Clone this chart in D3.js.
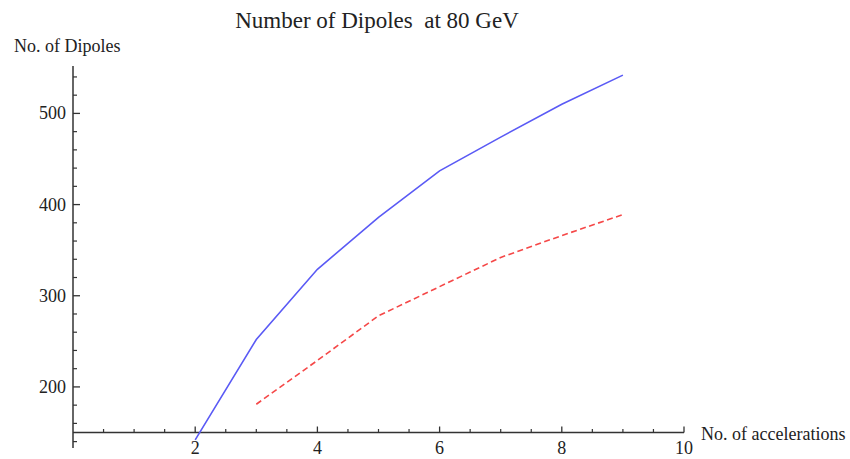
<!DOCTYPE html>
<html>
<head>
<meta charset="utf-8">
<script src="https://cdn.jsdelivr.net/npm/d3@7"></script>
<style>
  body { margin: 0; background: #fff; }
  text { font-family: "Liberation Serif", "DejaVu Serif", serif; fill: #222; }
</style>
</head>
<body>
<div id="chart"></div>
<script>
// numero di dipoli vs numero di accelerazioni (stile Mathematica)
const accelerations = [2, 3, 4, 5, 6, 7, 8, 9];
const dipolesSolid = [142, 252, 329, 386, 437, 474, 510, 542];
const accelerationsDashed = [3, 4, 5, 6, 7, 8, 9];
const dipolesDashed = [181, 229, 278, 310, 342, 366, 389];
const xTicks = [2, 4, 6, 8, 10];
const yTicks = [200, 300, 400, 500];

const W = 850, H = 459;
const svg = d3.select('#chart').append('svg').attr('width', W).attr('height', H);

const x = d3.scaleLinear().domain([0, 10]).range([73, 684]);
const y = d3.scaleLinear().domain([133, 552]).range([448, 66]);
const x0 = 0, y0 = 150; // incrocio assi

// minor ticks
const xMinor = d3.range(0.5, 10.01, 0.5).filter(v => !xTicks.includes(v));
const yMinor = d3.range(140, 552, 20).filter(v => !yTicks.includes(v));

const axisColor = '#333';

// asse x
svg.append('line')
    .attr('x1', x(x0)).attr('x2', x(10))
    .attr('y1', y(y0)).attr('y2', y(y0))
    .attr('stroke', axisColor).attr('stroke-width', 1.5);

svg.selectAll('.xmajor').data(xTicks).join('line')
    .attr('x1', d => x(d)).attr('x2', d => x(d))
    .attr('y1', y(y0)).attr('y2', y(y0) - 6)
    .attr('stroke', axisColor).attr('stroke-width', 1.3);

svg.selectAll('.xminor').data(xMinor).join('line')
    .attr('x1', d => x(d)).attr('x2', d => x(d))
    .attr('y1', y(y0)).attr('y2', y(y0) - 3.5)
    .attr('stroke', axisColor).attr('stroke-width', 1.2);

svg.selectAll('.xlab').data(xTicks).join('text')
    .attr('x', d => x(d)).attr('y', y(y0) + 21)
    .attr('text-anchor', 'middle')
    .attr('font-size', 18)
    .text(d => d);

// asse y
svg.append('line')
    .attr('x1', x(x0)).attr('x2', x(x0))
    .attr('y1', y(133)).attr('y2', y(552))
    .attr('stroke', axisColor).attr('stroke-width', 1.5);

svg.selectAll('.ymajor').data(yTicks).join('line')
    .attr('x1', x(x0)).attr('x2', x(x0) + 7)
    .attr('y1', d => y(d)).attr('y2', d => y(d))
    .attr('stroke', axisColor).attr('stroke-width', 1.3);

svg.selectAll('.yminor').data(yMinor).join('line')
    .attr('x1', x(x0)).attr('x2', x(x0) + 4)
    .attr('y1', d => y(d)).attr('y2', d => y(d))
    .attr('stroke', axisColor).attr('stroke-width', 1.2);

svg.selectAll('.ylab').data(yTicks).join('text')
    .attr('x', x(x0) - 7).attr('y', d => y(d) + 6)
    .attr('text-anchor', 'end')
    .attr('font-size', 18)
    .text(d => d);

// label
svg.append('text')
    .attr('x', 377).attr('y', 28)
    .attr('text-anchor', 'middle')
    .attr('font-size', 23)
    .attr('xml:space', 'preserve')
    .text('Number of Dipoles  at 80 GeV');

svg.append('text')
    .attr('x', 14).attr('y', 52)
    .attr('font-size', 18)
    .text('No. of Dipoles');

svg.append('text')
    .attr('x', 701).attr('y', 440)
    .attr('font-size', 18)
    .text('No. of accelerations');

// linee
const line = d3.line().x(d => x(d[0])).y(d => y(d[1]));

svg.append('path')
    .datum(accelerations.map((a, i) => [a, dipolesSolid[i]]))
    .attr('d', line)
    .attr('fill', 'none')
    .attr('stroke', '#5a5af5')
    .attr('stroke-width', 1.6);

svg.append('path')
    .datum(accelerationsDashed.map((a, i) => [a, dipolesDashed[i]]))
    .attr('d', line)
    .attr('fill', 'none')
    .attr('stroke', '#f54848')
    .attr('stroke-width', 1.6)
    .attr('stroke-dasharray', '6,3.5');
</script>
</body>
</html>
